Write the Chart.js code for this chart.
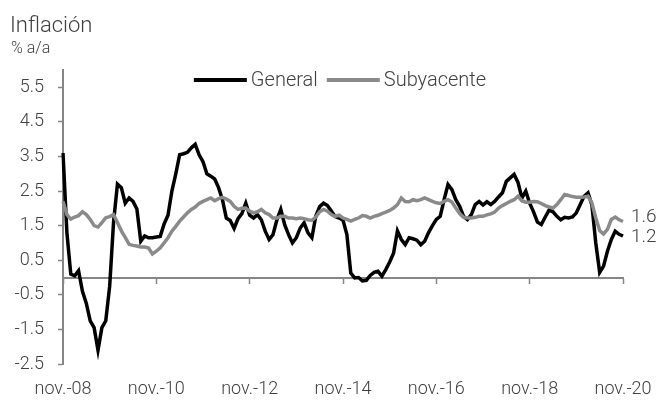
<!DOCTYPE html>
<html>
<head>
<meta charset="utf-8">
<script src="https://cdn.jsdelivr.net/npm/chart.js@4.4.0/dist/chart.umd.min.js"></script>
<style>
  html, body { margin: 0; padding: 0; background: #fff; }
  canvas { display: block; }
</style>
</head>
<body>
<canvas id="myChart" width="659" height="402"></canvas>
<script>
// monthly, nov-08 .. nov-20
const startYear = 2008;
const startMonth = 10; // noviembre
const monthNames = ['ene.', 'feb.', 'mar.', 'abr.', 'may.', 'jun.', 'jul.', 'ago.', 'sep.', 'oct.', 'nov.', 'dic.'];
const xTickLabels = ['nov.-08', 'nov.-10', 'nov.-12', 'nov.-14', 'nov.-16', 'nov.-18', 'nov.-20'];
const yTicks = [-2.5, -1.5, -0.5, 0.5, 1.5, 2.5, 3.5, 4.5, 5.5];

const general = [
  3.6, 1.3, 0.1, 0.05, 0.2, -0.4, -0.75, -1.25, -1.45, -2.1, -1.45, -1.25,
  -0.25, 1.6, 2.7, 2.6, 2.15, 2.3, 2.2, 1.98, 1.05, 1.2, 1.15, 1.15,
  1.17, 1.19, 1.55, 1.8, 2.5, 3.0, 3.55, 3.58, 3.62, 3.75, 3.85, 3.55,
  3.35, 3.0, 2.93, 2.85, 2.6, 2.25, 1.72, 1.65, 1.42, 1.7, 1.85, 2.15,
  1.8, 1.72, 1.82, 1.67, 1.34, 1.1, 1.24, 1.67, 1.97, 1.53, 1.24, 1.0,
  1.15, 1.43, 1.58, 1.29, 1.15, 1.77, 2.05, 2.15, 2.08, 1.92, 1.76, 1.72,
  1.66, 1.24, 0.13, -0.01, 0.0, -0.1, -0.08, 0.06, 0.15, 0.18, 0.04, 0.23,
  0.45, 0.7, 1.35, 1.1, 0.95, 1.15, 1.12, 1.08, 0.95, 1.05, 1.3, 1.5,
  1.68, 1.77, 2.25, 2.69, 2.54, 2.25, 2.06, 1.77, 1.68, 1.82, 2.11, 2.2,
  2.1, 2.19, 2.11, 2.2, 2.33, 2.45, 2.78, 2.88, 2.98, 2.75, 2.3, 2.5,
  2.15, 1.9, 1.6, 1.53, 1.75, 1.95, 1.9, 1.77, 1.67, 1.74, 1.72, 1.75,
  1.87, 2.11, 2.35, 2.45, 2.1, 1.0, 0.15, 0.33, 0.76, 1.1, 1.34, 1.25,
  1.2
];

const subyacente = [
  2.2, 1.82, 1.69, 1.75, 1.79, 1.9, 1.82, 1.68, 1.5, 1.46, 1.59, 1.73,
  1.76, 1.82, 1.59, 1.35, 1.16, 0.96, 0.93, 0.91, 0.88, 0.88, 0.85, 0.68,
  0.76, 0.86, 1.0, 1.15, 1.34, 1.48, 1.63, 1.75, 1.87, 1.97, 2.04, 2.14,
  2.2, 2.25, 2.3, 2.22, 2.28, 2.32, 2.27, 2.2, 2.06, 1.97, 2.0, 2.01,
  1.92, 1.87, 1.9, 1.97, 1.87, 1.82, 1.72, 1.72, 1.77, 1.77, 1.72, 1.72,
  1.7, 1.72, 1.7, 1.67, 1.65, 1.75, 1.9, 1.97, 1.92, 1.82, 1.77, 1.8,
  1.72, 1.68, 1.63, 1.68, 1.72, 1.79, 1.77, 1.72, 1.77, 1.8, 1.85, 1.89,
  1.94, 2.01, 2.11, 2.3, 2.2, 2.19, 2.25, 2.22, 2.25, 2.3, 2.25, 2.2,
  2.16, 2.14, 2.2, 2.25, 2.18, 2.01, 1.85, 1.74, 1.72, 1.72, 1.74, 1.77,
  1.77, 1.81, 1.84, 1.89, 2.01, 2.08, 2.14, 2.2, 2.25, 2.35, 2.22, 2.18,
  2.18, 2.2, 2.19, 2.14, 2.08, 2.04, 2.01, 2.11, 2.25, 2.4, 2.37, 2.34,
  2.32, 2.32, 2.33, 2.35, 2.16, 1.72, 1.36, 1.26, 1.39, 1.68, 1.75, 1.67,
  1.62
];

const endLabels = ['1.2', '1.6'];

const labels = [];
for (let i = 0; i < general.length; i++) {
  const m = (startMonth + i) % 12;
  const y = startYear + Math.floor((startMonth + i) / 12);
  labels.push(monthNames[m] + '-' + String(y % 100).padStart(2, '0'));
}

const FONT = "Roboto, 'Liberation Sans', sans-serif";
const TEXT = '#404040';
const AXIS = '#868686';
const BLACK = '#000000';
const GREY = '#8a8a8a';

Chart.defaults.font.family = FONT;
Chart.defaults.font.weight = '300';
Chart.defaults.color = TEXT;

// title, legend and end labels
const decorations = {
  id: 'decorations',
  afterDraw(chart) {
    const ctx = chart.ctx;
    ctx.save();
    ctx.fillStyle = TEXT;
    ctx.textBaseline = 'alphabetic';
    ctx.textAlign = 'left';
    ctx.font = '300 22px ' + FONT;
    ctx.fillText('Inflación', 10, 32);
    ctx.font = '300 16px ' + FONT;
    ctx.fillText('% a/a', 11, 53);

    // legend
    ctx.font = '300 20px ' + FONT;
    ctx.textBaseline = 'middle';
    const ds = chart.data.datasets;
    const lineLen = 53, gap = 4, spacing = 9;
    let total = 0;
    ds.forEach((d, i) => {
      total += lineLen + gap + ctx.measureText(d.label).width + (i < ds.length - 1 ? spacing : 0);
    });
    let x = 340 - total / 2;
    const ly = 80;
    ds.forEach(d => {
      ctx.strokeStyle = d.borderColor;
      ctx.lineWidth = 4;
      ctx.beginPath();
      ctx.moveTo(x, ly);
      ctx.lineTo(x + lineLen, ly);
      ctx.stroke();
      x += lineLen + gap;
      ctx.fillStyle = TEXT;
      ctx.fillText(d.label, x, ly + 1);
      x += ctx.measureText(d.label).width + spacing;
    });

    // end labels
    ctx.font = '300 19px ' + FONT;
    const offsets = [1, -4];
    ds.forEach((d, i) => {
      const meta = chart.getDatasetMeta(i);
      const pt = meta.data[meta.data.length - 1];
      ctx.fillText(endLabels[i], pt.x + 8, pt.y + offsets[i]);
    });
    ctx.restore();
  }
};

const config = {
  type: 'line',
  data: {
    labels: labels,
    datasets: [{
      label: 'General',
      data: general,
      borderColor: BLACK,
      backgroundColor: BLACK,
      borderWidth: 3.5,
      pointRadius: 0,
      tension: 0,
      order: 1
    }, {
      label: 'Subyacente',
      data: subyacente,
      borderColor: GREY,
      backgroundColor: GREY,
      borderWidth: 3.5,
      pointRadius: 0,
      tension: 0,
      order: 0
    }]
  },
  options: {
    responsive: false,
    animation: false,
    devicePixelRatio: 1,
    layout: { padding: { top: 70, right: 36, left: 0, bottom: 0 } },
    plugins: {
      legend: { display: false },
      tooltip: { enabled: false }
    },
    scales: {
      x: {
        type: 'category',
        offset: false,
        grid: { display: false },
        border: { display: false },
        afterFit: (scale) => { scale.height = 38; },
        ticks: {
          autoSkip: false,
          maxRotation: 0,
          minRotation: 0,
          padding: 7,
          color: TEXT,
          font: { size: 18, weight: '300' },
          callback: function (value) {
            const l = this.getLabelForValue(value);
            return xTickLabels.includes(l) ? l : '';
          }
        }
      },
      x2: {
        type: 'category',
        position: { y: 0 },
        offset: false,
        grid: {
          drawOnChartArea: false,
          drawTicks: true,
          tickLength: 5,
          tickWidth: 1.5,
          tickColor: (ctx) => (ctx.index % 24 === 0 ? AXIS : 'rgba(0,0,0,0)')
        },
        border: { color: AXIS, width: 2 },
        ticks: { display: false, autoSkip: false }
      },
      y: {
        min: -2.5,
        max: 6,
        afterFit: (scale) => { scale.width = 63; },
        afterBuildTicks: (scale) => { scale.ticks = yTicks.map(v => ({ value: v })); },
        grid: {
          drawOnChartArea: false,
          drawTicks: true,
          tickLength: 5,
          tickWidth: 1.5,
          tickColor: AXIS
        },
        border: { color: AXIS, width: 2 },
        ticks: {
          padding: 14,
          color: TEXT,
          font: { size: 18, weight: '300' },
          callback: (v) => v.toFixed(1)
        }
      }
    }
  },
  plugins: [decorations]
};

new Chart(document.getElementById('myChart'), config);
</script>
</body>
</html>
